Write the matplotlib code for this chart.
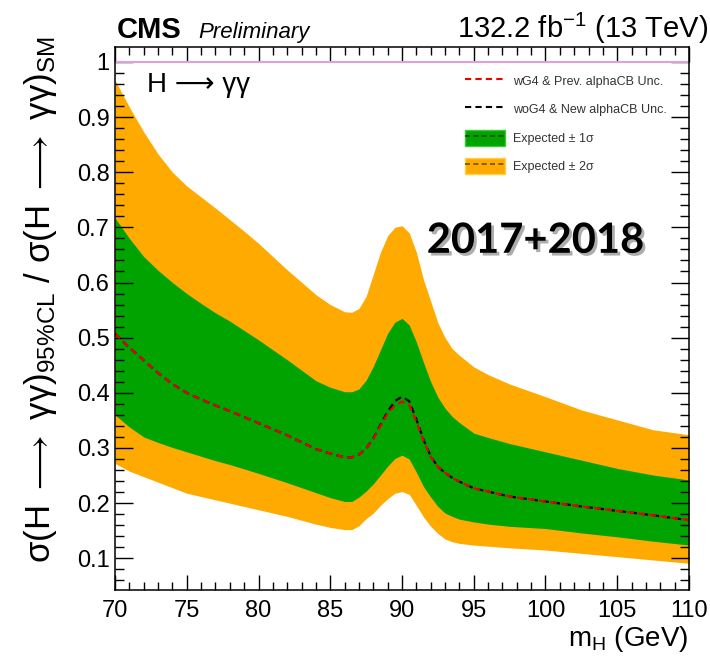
import numpy as np
import matplotlib
matplotlib.use("Agg")
import matplotlib.pyplot as plt
from matplotlib.lines import Line2D
from matplotlib.patches import Patch
from matplotlib.legend_handler import HandlerTuple
import matplotlib.patheffects as pe

plt.rcParams['font.family'] = ['Liberation Sans', 'DejaVu Sans']
plt.rcParams['mathtext.fontset'] = 'custom'
plt.rcParams['mathtext.rm'] = 'Liberation Sans'
plt.rcParams['mathtext.it'] = 'Liberation Sans:italic'
plt.rcParams['mathtext.bf'] = 'Liberation Sans:bold'
plt.rcParams['mathtext.fallback'] = 'stixsans'

# expected limits vs mass
mass = [70, 71, 72, 73, 74, 75, 76, 77, 78, 79, 80, 82, 84, 85, 86, 86.5, 87, 87.5,
        88, 88.5, 89, 89.5, 90, 90.5, 91, 91.5, 92, 92.5, 93, 93.5, 94, 95, 96,
        97.5, 100, 102.5, 105, 107.5, 110]

exp_wg4 = [0.507, 0.482, 0.459, 0.436, 0.416, 0.400, 0.388, 0.377, 0.367, 0.356, 0.345,
           0.323, 0.298, 0.290, 0.283, 0.283, 0.288, 0.299, 0.316, 0.340, 0.363,
           0.377, 0.384, 0.378, 0.348, 0.313, 0.284, 0.266, 0.255, 0.246, 0.239,
           0.227, 0.221, 0.212, 0.203, 0.194, 0.186, 0.178, 0.169]

exp_wog4 = [0.507, 0.482, 0.459, 0.436, 0.416, 0.400, 0.388, 0.377, 0.367, 0.356, 0.345,
            0.323, 0.298, 0.290, 0.283, 0.283, 0.288, 0.299, 0.317, 0.342, 0.366,
            0.385, 0.393, 0.385, 0.352, 0.315, 0.285, 0.266, 0.255, 0.246, 0.239,
            0.227, 0.221, 0.212, 0.203, 0.194, 0.186, 0.178, 0.169]

plus1 = [0.717, 0.680, 0.647, 0.622, 0.600, 0.580, 0.562, 0.545, 0.530, 0.513, 0.496,
         0.460, 0.422, 0.410, 0.402, 0.402, 0.407, 0.423, 0.448, 0.478, 0.508,
         0.528, 0.535, 0.523, 0.492, 0.455, 0.420, 0.392, 0.372, 0.357, 0.346,
         0.327, 0.319, 0.308, 0.293, 0.278, 0.263, 0.251, 0.242]

minus1 = [0.360, 0.338, 0.320, 0.310, 0.301, 0.293, 0.285, 0.277, 0.270, 0.262, 0.254,
          0.237, 0.219, 0.210, 0.203, 0.203, 0.211, 0.222, 0.235, 0.251, 0.267,
          0.281, 0.287, 0.280, 0.256, 0.230, 0.211, 0.194, 0.182, 0.176, 0.171,
          0.166, 0.162, 0.158, 0.154, 0.146, 0.139, 0.131, 0.124]

plus2 = [0.967, 0.918, 0.873, 0.833, 0.800, 0.775, 0.755, 0.735, 0.714, 0.693, 0.671,
         0.623, 0.578, 0.560, 0.547, 0.546, 0.553, 0.575, 0.615, 0.655, 0.685,
         0.700, 0.703, 0.690, 0.655, 0.605, 0.566, 0.527, 0.500, 0.480, 0.468,
         0.447, 0.433, 0.416, 0.393, 0.369, 0.351, 0.333, 0.324]

minus2 = [0.272, 0.258, 0.248, 0.238, 0.228, 0.218, 0.212, 0.206, 0.200, 0.194, 0.188,
          0.176, 0.162, 0.156, 0.152, 0.152, 0.159, 0.172, 0.182, 0.196, 0.208,
          0.218, 0.221, 0.216, 0.196, 0.175, 0.158, 0.145, 0.135, 0.130, 0.127,
          0.124, 0.122, 0.119, 0.115, 0.109, 0.103, 0.097, 0.091]

ORANGE = '#FFAA00'
GREEN = '#00A300'

fig = plt.figure(figsize=(7.10, 6.58), dpi=100)
ax = fig.add_axes([0.162, 0.1033, 0.8084, 0.8253])

ax.fill_between(mass, minus2, plus2, color=ORANGE, lw=0)
ax.fill_between(mass, minus1, plus1, color=GREEN, lw=0)
ax.plot(mass, exp_wog4, color='black', ls=(0, (3, 2)), lw=1.6)
ax.plot(mass, exp_wg4, color='#EE0000', ls=(0, (3, 2)), lw=1.6)
ax.axhline(1.0, color='#DDA0DD', lw=1.5)

ax.set_xlim(70, 110)
ax.set_ylim(0.0425, 1.027)
ax.set_xticks(np.arange(70, 111, 5))
ax.set_xticks(np.arange(70, 111, 1), minor=True)
ax.set_yticks(np.arange(0.1, 1.01, 0.1))
ax.set_yticks(np.arange(0.06, 1.02, 0.02), minor=True)
ax.set_yticklabels(['0.1', '0.2', '0.3', '0.4', '0.5', '0.6', '0.7', '0.8', '0.9', '1'])

ax.tick_params(which='both', direction='in', top=True, right=True, width=1.0,
               labelsize=17, colors='black')
ax.tick_params(axis='x', which='major', length=11, pad=7)
ax.tick_params(axis='x', which='minor', length=5.5)
ax.tick_params(axis='y', which='major', length=13, pad=4)
ax.tick_params(axis='y', which='minor', length=6.5)
for s in ax.spines.values():
    s.set_linewidth(1.1)

# legend
h1 = Line2D([], [], color='#EE0000', ls=(0, (3, 2)), lw=1.5)
h2 = Line2D([], [], color='black', ls=(0, (3, 2)), lw=1.5)
h3 = (Patch(facecolor=GREEN, edgecolor='#33CC33', lw=1),
      Line2D([], [], color='#1a4a00', ls=(0, (3, 2)), lw=1.2))
h4 = (Patch(facecolor=ORANGE, edgecolor='#FFD040', lw=1),
      Line2D([], [], color='#6a5000', ls=(0, (3, 2)), lw=1.2))
leg = ax.legend([h1, h2, h3, h4],
                ['wG4 & Prev. alphaCB Unc.', 'woG4 & New alphaCB Unc.',
                 'Expected ± 1σ', 'Expected ± 2σ'],
                handler_map={tuple: HandlerTuple(ndivide=1)},
                loc='upper left', bbox_to_anchor=(0.61, 0.952),
                frameon=False, fontsize=9, borderpad=0, borderaxespad=0,
                handlelength=3.2, handleheight=1.6, labelspacing=0.98,
                handletextpad=0.65)
for t in leg.get_texts():
    t.set_color('#333333')

ax.text(0.056, 0.917, 'H ⟶ γγ', transform=ax.transAxes,
        fontsize=20, ha='left', va='baseline')

ax.text(0.732, 0.621, '2017+2018', transform=ax.transAxes, fontsize=30,
        fontweight='bold', family='Lato', ha='center', va='baseline',
        path_effects=[pe.withSimplePatchShadow(offset=(2, -2), shadow_rgbFace='#777777', alpha=0.6)])

# header
fig.text(0.165, 0.942, 'CMS', fontsize=21, fontweight='bold', ha='left', va='baseline')
fig.text(0.280, 0.942, 'Preliminary', fontsize=16, style='italic', ha='left', va='baseline')
fig.text(0.997, 0.942, '132.2 fb$^{-1}$ (13 TeV)', fontsize=21, ha='right', va='baseline')

fig.text(0.057, 0.545,
         r'σ(H ${\longrightarrow}$ γγ)$_{95\%\mathrm{CL}}$ / σ(H ${\longrightarrow}$ γγ)$_{\mathrm{SM}}$',
         fontsize=25, rotation=90, ha='center', va='center')
fig.text(0.970, 0.018, r'm$_{\mathrm{H}}$ (GeV)', fontsize=20, ha='right', va='baseline')

fig.savefig('out.png', dpi=100)
